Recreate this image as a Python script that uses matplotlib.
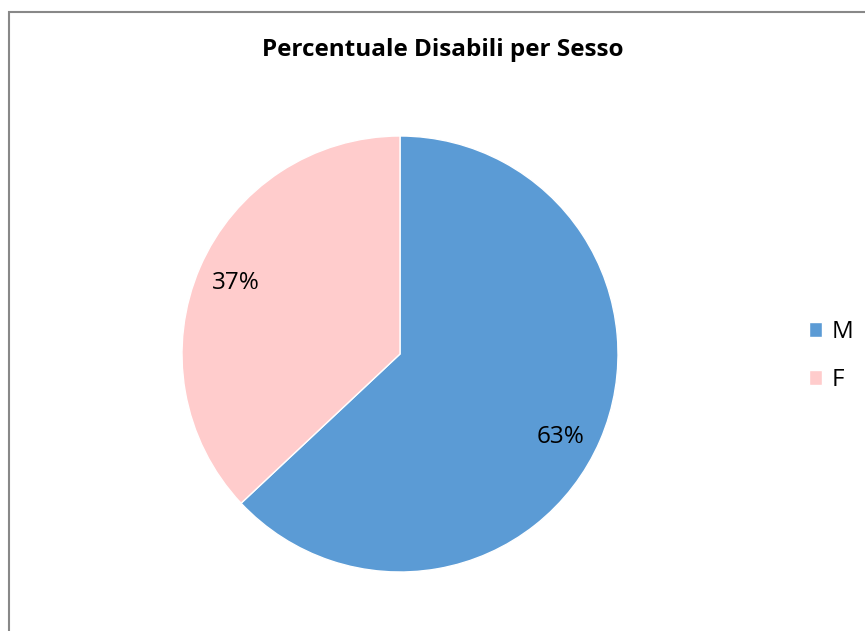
import matplotlib.pyplot as plt
from matplotlib.patches import Rectangle

labels = ['M', 'F']
values = [63, 37]
colors = ['#5B9BD5', '#FFCCCC']

plt.rcParams['font.family'] = ['Open Sans', 'DejaVu Sans']

W, H = 865, 631
fig = plt.figure(figsize=(W / 100, H / 100), dpi=100)

# cornice grigia del grafico
fig.patches.append(Rectangle((8.5 / W, -0.1), 1.2, 1 - 11.5 / H + 0.1,
                             transform=fig.transFigure, fill=False,
                             edgecolor='#888888', linewidth=1.5))

cx, cy, r = 400, H - 354, 218
ax = fig.add_axes([(cx - r) / W, (cy - r) / H, 2 * r / W, 2 * r / H])
wedges, texts, autotexts = ax.pie(values, colors=colors, startangle=90, counterclock=False,
                                  autopct='%1.0f%%', pctdistance=0.82,
                                  wedgeprops=dict(edgecolor='white', linewidth=1),
                                  textprops=dict(fontsize=17.5, color='black'))
# etichetta M un po' più in basso, come in Excel
autotexts[0].set_position((0.735, -0.38))
ax.set_xlim(-1, 1)
ax.set_ylim(-1, 1)
ax.set_aspect('equal')

fig.text(443 / W, 1 - 50 / H, 'Percentuale Disabili per Sesso', ha='center', va='center',
         fontsize=17.5, fontweight='bold')

fig.legend(wedges, labels, loc='center left', bbox_to_anchor=(787 / W, 1 - 356 / H),
           frameon=False, fontsize=17.5, handlelength=0.55, handleheight=0.55,
           labelspacing=1.0, handletextpad=0.4)

fig.savefig('out.png', dpi=100)
